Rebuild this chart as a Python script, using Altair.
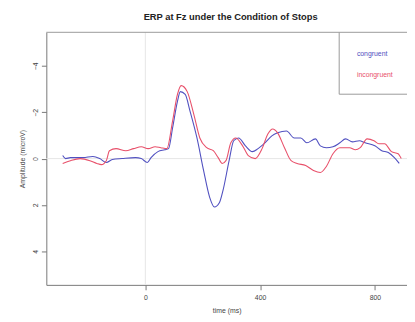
import altair as alt
import pandas as pd

# congruent (blue)
t_cong = [-288, -278, -261, -217, -183, -159, -136, -115, -81, -34, -14, 7, 20, 44, 68, 81,
          95, 112, 122, 139, 156, 180, 203, 224, 241, 258, 271, 292, 308, 325, 349, 373,
          393, 417, 441, 461, 492, 519, 542, 563, 593, 610, 631, 654, 678, 698, 722, 746,
          766, 800, 824, 847, 868, 885]
a_cong = [-0.13, 0.0, -0.04, -0.04, -0.09, 0.0, 0.17, 0.04, 0.0, -0.04, 0.0, 0.17, -0.04, -0.30, -0.38, -0.43,
          -1.32, -2.47, -2.89, -2.77, -2.04, -0.89, 0.51, 1.66, 2.09, 1.91, 1.36, 0.09, -0.77, -0.89, -0.55, -0.30,
          -0.43, -0.68, -0.98, -1.11, -1.19, -0.89, -0.89, -0.68, -0.85, -0.55, -0.47, -0.51, -0.68, -0.85, -0.72, -0.77,
          -0.68, -0.55, -0.34, -0.26, -0.04, 0.21]

# incongruent (red)
t_incong = [-288, -261, -227, -193, -169, -153, -136, -125, -102, -68, -41, -14, 10, 34, 54, 75,
            95, 112, 125, 146, 169, 190, 214, 237, 254, 268, 281, 298, 315, 339, 359, 383,
            407, 427, 444, 461, 485, 508, 529, 559, 586, 610, 631, 654, 678, 712, 732, 749,
            773, 797, 814, 834, 858, 881, 892]
a_incong = [0.21, 0.09, 0.0, 0.09, 0.21, 0.26, 0.09, -0.34, -0.43, -0.34, -0.43, -0.51, -0.43, -0.51, -0.47, -0.43,
            -1.62, -2.77, -3.15, -2.89, -1.91, -0.89, -0.47, -0.34, -0.04, 0.21, 0.09, -0.68, -0.89, -0.55, -0.13, 0.0,
            -0.43, -1.06, -1.28, -1.11, -0.47, 0.09, 0.21, 0.30, 0.51, 0.60, 0.34, -0.21, -0.47, -0.47, -0.38, -0.47,
            -0.85, -0.77, -0.64, -0.64, -0.30, -0.21, 0.0]

conditions = ["congruent", "incongruent"]
colors = ["#5050c0", "#e8506a"]
x_ticks = [0, 400, 800]
y_ticks = [-4, -2, 0, 2, 4]

df = pd.concat([
    pd.DataFrame({"time": t_cong, "amp": a_cong, "cond": conditions[0]}),
    pd.DataFrame({"time": t_incong, "amp": a_incong, "cond": conditions[1]}),
])

W, H = 367, 257
font = "Liberation Sans"

xs = alt.Scale(domain=[-345, 912], nice=False, zero=False)
ys = alt.Scale(domain=[-5.45, 5.45], nice=False, zero=False, reverse=True)

lines = alt.Chart(df).mark_line(strokeWidth=1.1, interpolate="monotone").encode(
    x=alt.X("time:Q", scale=xs, title="time (ms)",
            axis=alt.Axis(values=x_ticks, grid=False, tickSize=5, labelPadding=4,
                          titlePadding=6, domainColor="#777", tickColor="#777")),
    y=alt.Y("amp:Q", scale=ys, title="Amplitude (microV)",
            axis=alt.Axis(values=y_ticks, grid=False, tickSize=5, labelAngle=270,
                          labelAlign="center", labelBaseline="bottom", labelPadding=3,
                          titlePadding=6, domainColor="#777", tickColor="#777")),
    color=alt.Color("cond:N", scale=alt.Scale(domain=conditions, range=colors), legend=None),
    detail="cond:N",
    order=alt.Order("time:Q"),
)

zero_v = alt.Chart(pd.DataFrame({"time": [0]})).mark_rule(color="#e6e6e6", strokeWidth=1).encode(
    x=alt.X("time:Q", scale=xs))
zero_h = alt.Chart(pd.DataFrame({"amp": [0]})).mark_rule(color="#e6e6e6", strokeWidth=1).encode(
    y=alt.Y("amp:Q", scale=ys))

top_line = alt.Chart(pd.DataFrame({"a": [0]})).mark_rule(color="#999", strokeWidth=1).encode(
    x=alt.value(0), x2=alt.value(W), y=alt.value(0))
leg_left = alt.Chart(pd.DataFrame({"a": [0]})).mark_rule(color="#999", strokeWidth=1).encode(
    x=alt.value(298), y=alt.value(0), y2=alt.value(63))
leg_bottom = alt.Chart(pd.DataFrame({"a": [0]})).mark_rule(color="#999", strokeWidth=1).encode(
    x=alt.value(298), x2=alt.value(W), y=alt.value(63))

leg_df = pd.DataFrame({"cond": conditions, "ypos": [22, 43]})
leg_text = alt.Chart(leg_df).mark_text(align="left", baseline="middle", fontSize=7, font=font).encode(
    x=alt.value(316), y=alt.Y("ypos:Q", scale=None),
    text="cond:N",
    color=alt.Color("cond:N", scale=alt.Scale(domain=conditions, range=colors), legend=None),
)

chart = alt.layer(zero_v, zero_h, lines, top_line, leg_left, leg_bottom, leg_text).properties(
    width=W, height=H,
    title=alt.TitleParams("ERP at Fz under the Condition of Stops", anchor="middle", dx=4,
                          fontSize=9.5, fontWeight="bold", font=font, color="#222", offset=11),
    autosize=alt.AutoSizeParams(type="none"),
    padding={"left": 39, "top": 22, "right": 0, "bottom": 32},
).configure_view(stroke=None).configure_axis(
    labelFont=font, titleFont=font, labelFontSize=7, titleFontSize=7,
    labelColor="#444", titleColor="#444", titleFontWeight="normal",
)

chart.save("out.html", embed_options={"renderer": "svg", "actions": False})
